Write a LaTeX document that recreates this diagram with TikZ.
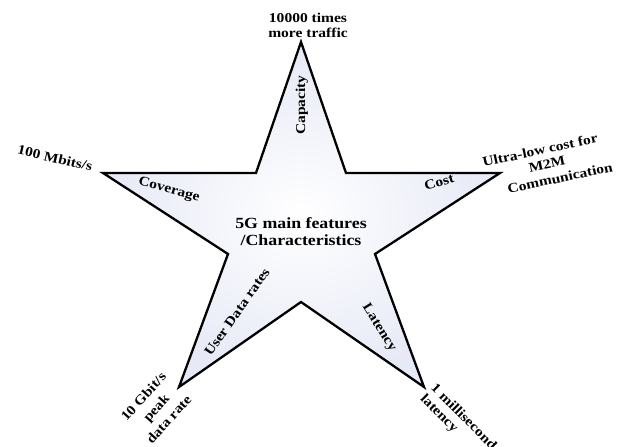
\documentclass[tikz,border=0pt]{standalone}
\usepackage{fontspec}
\setmainfont{Liberation Serif}[FakeStretch=1.15]
\begin{document}
\begin{tikzpicture}[x=1pt,y=-1pt,
  lbl/.style={font=\bfseries\fontsize{13.5}{15}\selectfont, inner sep=0pt, align=center},
  starline/.style={line width=2.3pt, line join=miter, inner color=white, outer color={rgb,255:red,230;green,233;blue,246}}]
\useasboundingbox (0,0) rectangle (621,447);
\coordinate (T) at (301,42);
\coordinate (i1) at (346,173);
\coordinate (R) at (500,173);
\coordinate (i2) at (375,254);
\coordinate (BR) at (424,387);
\coordinate (i3) at (301,302);
\coordinate (BL) at (179,387);
\coordinate (i4) at (228,254);
\coordinate (L) at (103,173);
\coordinate (i5) at (256,173);
\draw[starline] (T) -- (i1) -- (R) -- (i2) -- (BR) -- (i3) -- (BL) -- (i4) -- (L) -- (i5) -- cycle;

\node[lbl] (traffic) at (308,25) {10000 times\\more traffic};
\node[lbl, rotate=90] (cap) at (302,105) {Capacity};
\node[lbl, rotate=-13] (mbits) at (55,158) {100 Mbits/s};
\node[lbl, rotate=-15] (cov) at (169,190) {Coverage};
\node[lbl, rotate=17] (cost) at (439,182) {Cost};
\node[lbl, rotate=12] (u1) at (540,150) {Ultra-low cost for};
\node[lbl, rotate=12] (u2) at (547,164) {M2M};
\node[lbl, rotate=12] (u3) at (560,178) {Communication};
\node[lbl, font=\bfseries\fontsize{15.5}{17}\selectfont] (center) at (301,232) {5G main features\\/Characteristics};
\node[lbl, rotate=55] (udr) at (237,312) {User Data rates};
\node[lbl, rotate=-58] (lat) at (379,328) {Latency};
\node[lbl, rotate=48, font=\bfseries\fontsize{13.5}{17}\selectfont] (peak) at (156,408) {10 Gbit/s\\peak\\data rate};
\node[lbl, rotate=-45, align=left, anchor=north west] (ms) at (437,382) {1 millisecond\\latency};
\end{tikzpicture}
\end{document}
